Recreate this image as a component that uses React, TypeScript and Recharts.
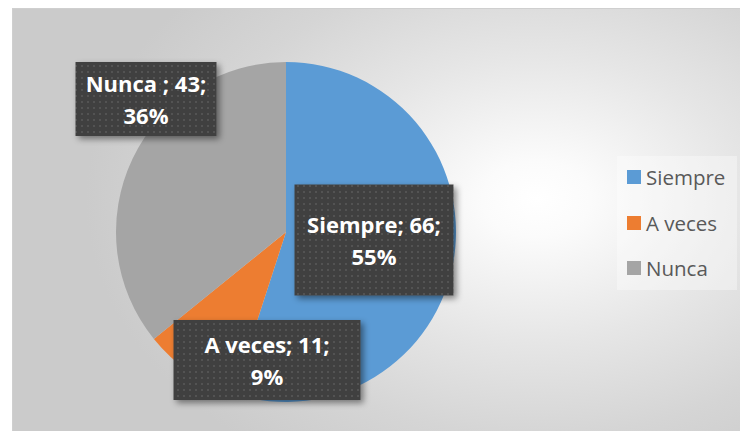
import React from 'react';
import { PieChart, Pie, Cell, Legend } from 'recharts';

// Frecuencia de respuestas
const CATEGORIES = ['Siempre', 'A veces', 'Nunca '];
const VALUES = [66, 11, 43];
const COLORS = ['#5B9BD5', '#ED7D31', '#A5A5A5'];

// label box layout, offsets from the pie centre (px)
const LABEL_BOXES = [
  { dx: 88, dy: 8, w: 159, h: 111 },
  { dx: -19, dy: 128, w: 187, h: 80 },
  { dx: -140, dy: -133, w: 141, h: 74 },
];

const chartData = CATEGORIES.map((name, i) => ({ name, value: VALUES[i] }));
const total = VALUES.reduce((a, b) => a + b, 0);

const FONT = '"Open Sans", "Noto Sans", sans-serif';

function renderLabel(props: any) {
  const { cx, cy, index, name, value } = props;
  const box = LABEL_BOXES[index];
  const x = cx + box.dx;
  const y = cy + box.dy;
  const pct = Math.round((value / total) * 100);
  return (
    <g key={`lbl-${index}`}>
      <rect
        x={x - box.w / 2}
        y={y - box.h / 2}
        width={box.w}
        height={box.h}
        fill="url(#dots)"
        filter="url(#boxShadow)"
      />
      <text
        x={x}
        y={y - 16}
        textAnchor="middle"
        dominantBaseline="central"
        fill="#ffffff"
        fontFamily={FONT}
        fontWeight={700}
        fontSize={22}
      >
        {`${name}; ${value};`}
      </text>
      <text
        x={x}
        y={y + 16}
        textAnchor="middle"
        dominantBaseline="central"
        fill="#ffffff"
        fontFamily={FONT}
        fontWeight={700}
        fontSize={22}
      >
        {`${pct}%`}
      </text>
    </g>
  );
}

// legend drawn in category order (Recharts would sort it)
function renderLegend() {
  return (
    <div
      style={{
        width: 120,
        height: 134,
        background: 'rgba(255,255,255,0.35)',
        position: 'relative',
        fontFamily: FONT,
      }}
    >
      {CATEGORIES.map((name, i) => (
        <div
          key={`leg-${i}`}
          style={{
            position: 'absolute',
            left: 10,
            top: 21 + i * 45.5 - 12,
            height: 24,
            display: 'flex',
            alignItems: 'center',
          }}
        >
          <span
            style={{
              display: 'inline-block',
              width: 14,
              height: 14,
              background: COLORS[i],
              marginRight: 5,
            }}
          />
          <span style={{ fontSize: 20.5, color: '#595959', lineHeight: '24px', whiteSpace: 'pre' }}>
            {name.trim()}
          </span>
        </div>
      ))}
    </div>
  );
}

export default function App() {
  return (
    <div style={{ position: 'absolute', left: 0, top: 0, width: 740, height: 431, background: '#ffffff' }}>
      <div
        style={{
          position: 'absolute',
          left: 12,
          top: 8,
          width: 728,
          height: 423,
          borderTop: '1px solid #cfcfcf',
          borderLeft: '1px solid #cfcfcf',
          boxSizing: 'border-box',
          background:
            'radial-gradient(ellipse 62% 75% at 72% 45%, #ffffff 0%, #fbfbfb 12%, #e6e6e6 45%, #d5d5d5 75%, #cbcbcb 100%)',
        }}
      >
        <PieChart width={727} height={422} margin={{ top: 0, right: 0, bottom: 0, left: 0 }}>
          <defs>
            <pattern id="dots" width="6" height="6" patternUnits="userSpaceOnUse">
              <rect width="6" height="6" fill="#404040" />
              <rect x="2" y="2" width="2" height="2" fill="#525252" />
            </pattern>
            <filter id="boxShadow" x="-20%" y="-20%" width="150%" height="150%">
              <feDropShadow dx="3" dy="3" stdDeviation="3" floodColor="#000000" floodOpacity="0.45" />
            </filter>
          </defs>
          <Pie
            data={chartData}
            dataKey="value"
            nameKey="name"
            cx={273}
            cy={223}
            outerRadius={170}
            startAngle={90}
            endAngle={-270}
            stroke="none"
            labelLine={false}
            label={renderLabel}
            isAnimationActive={false}
          >
            {chartData.map((entry, index) => (
              <Cell key={`cell-${index}`} fill={COLORS[index % COLORS.length]} />
            ))}
          </Pie>
          <Legend
            layout="vertical"
            align="right"
            verticalAlign="middle"
            content={renderLegend}
            wrapperStyle={{ left: 604, top: 147, width: 120, height: 134 }}
          />
        </PieChart>
      </div>
    </div>
  );
}
